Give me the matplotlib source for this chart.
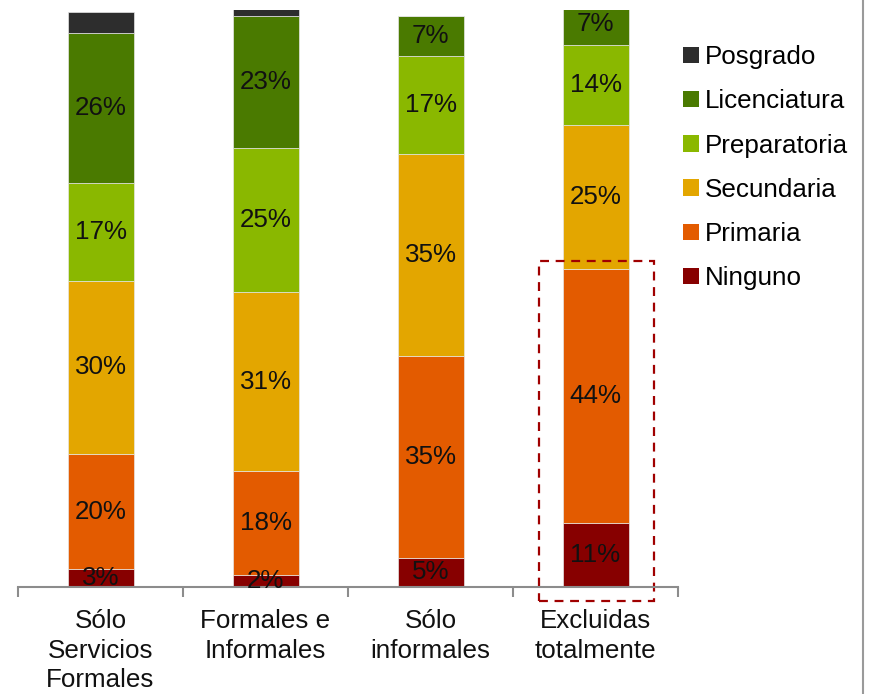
import matplotlib
matplotlib.use("Agg")
import matplotlib.pyplot as plt
from matplotlib.patches import Rectangle, Patch
from matplotlib.lines import Line2D
import numpy as np

plt.rcParams['font.family'] = ['Liberation Sans', 'DejaVu Sans']

categories = ["Sólo\nServicios\nFormales", "Formales e\nInformales", "Sólo\ninformales", "Excluidas\ntotalmente"]
levels = ["Ninguno", "Primaria", "Secundaria", "Preparatoria", "Licenciatura", "Posgrado"]
ninguno = [3, 2, 5, 11]
primaria = [20, 18, 35, 44]
secundaria = [30, 31, 35, 25]
preparatoria = [17, 25, 17, 14]
licenciatura = [26, 23, 7, 7]
posgrado = [3.6, 2, 0, 0]
labelled = [True, True, True, True, True, False]
colors = ["#870000", "#e35b00", "#e3a600", "#8ab800", "#4a7a00", "#2d2d2d"]

series = [ninguno, primaria, secundaria, preparatoria, licenciatura, posgrado]

fs = 18.7
fig = plt.figure(figsize=(8.69, 6.94), dpi=100)
ax = fig.add_axes([18/869, 1 - 586.5/694, 660/869, 576.5/694])

x = np.arange(len(categories))
bottom = np.zeros(len(categories))
for vals, col, lab, show in zip(series, colors, levels, labelled):
    vals = np.array(vals, dtype=float)
    ax.bar(x, vals, width=0.4, bottom=bottom, color=col, edgecolor="#e6e6e6",
           linewidth=0.5, label=lab)
    if show:
        for xi, b, v in zip(x, bottom, vals):
            ax.text(xi, b + v / 2, f"{v:.0f}%", ha="center", va="center",
                    fontsize=fs, color="#111111")
    bottom += vals

ax.set_xlim(-0.5, 3.5)
ax.set_ylim(0, 100)
for s in ["top", "right", "left"]:
    ax.spines[s].set_visible(False)
ax.spines["bottom"].set_color("#8c8c8c")
ax.spines["bottom"].set_linewidth(1.5)
ax.set_yticks([])
ax.set_xticks(np.arange(-0.5, 4.0, 1.0))
ax.set_xticklabels([])
ax.tick_params(axis="x", length=7, width=1.5, color="#8c8c8c", direction="out")
for xi, cat in zip(x, categories):
    ax.text(xi, -3.9, cat, ha="center", va="top", fontsize=fs,
            linespacing=1.3, color="#111111")

# highlight box around the excluded group
box = Rectangle((2.659, -2.46), 0.695, 58.96, fill=False, edgecolor="#a00000",
                linewidth=1.6, linestyle=(0, (4, 3)), clip_on=False)
ax.add_patch(box)

handles = [Patch(facecolor=c, edgecolor="none", label=l)
           for c, l in zip(colors[::-1], levels[::-1])]
leg = fig.legend(handles=handles, loc="upper left",
                 bbox_to_anchor=(683/869, 1 - 45/694), frameon=False,
                 fontsize=fs, handlelength=0.6, handleheight=0.6,
                 handletextpad=0.25, labelspacing=0.78, borderaxespad=0,
                 borderpad=0)

fig.add_artist(Line2D([863/869, 863/869], [0, 1], color="#9a9a9a",
                      linewidth=1.5, transform=fig.transFigure))

fig.savefig("out.png", dpi=100)
